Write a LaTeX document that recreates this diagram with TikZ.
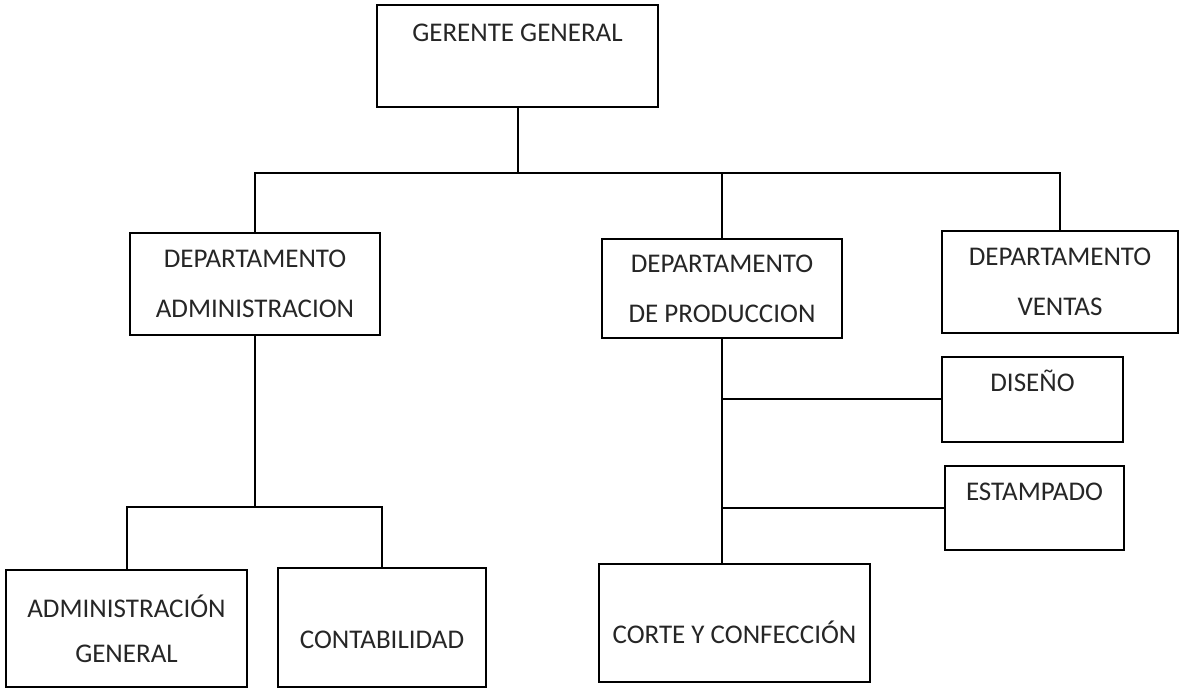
\documentclass[tikz,border=0pt]{standalone}
\usepackage{fontspec}
\setmainfont{Carlito}
\tikzset{
  caja/.style={draw, line width=1pt, inner sep=0pt, align=center,
    font=\fontsize{13.5}{25}\selectfont, text=black!85},
  linea/.style={line width=1pt},
}
\begin{document}
\begin{tikzpicture}[x=0.5pt, y=-0.5pt]
  % marco del dibujo
  \useasboundingbox (0,0) rectangle (1183,688);

  % gerencia
  \node[caja, minimum width=140.5pt, text height=18.25pt, text depth=32.75pt] (gerente) at (517.5,56) {GERENTE GENERAL};

  % departamentos
  \node[caja, minimum width=125pt, minimum height=51pt] (depadm) at (255,284) {DEPARTAMENTO\\ADMINISTRACION};
  \node[caja, minimum width=120pt, minimum height=49.5pt] (depprod) at (722,288.5) {DEPARTAMENTO\\DE PRODUCCION};
  \node[caja, minimum width=118pt, minimum height=51pt] (depvent) at (1060,282) {DEPARTAMENTO\\VENTAS};

  % areas de administracion
  \node[caja, minimum width=120.5pt, minimum height=58.5pt, font=\fontsize{13.5}{22.5}\selectfont] (admgen) at (126.5,628.5) {ADMINISTRACIÓN\\GENERAL};
  \node[caja, minimum width=104pt, text height=40.25pt, text depth=19.25pt] (conta) at (382,627.5) {CONTABILIDAD};

  % areas de produccion
  \node[caja, minimum width=90.5pt, text height=17.25pt, text depth=25.25pt] (diseno) at (1032.5,399.5) {DISEÑO};
  \node[caja, minimum width=89.5pt, text height=17.25pt, text depth=24.75pt] (estamp) at (1034.5,508) {ESTAMPADO};
  \node[caja, minimum width=135.5pt, text height=39.75pt, text depth=19.25pt] (corte) at (734.5,623) {CORTE Y CONFECCIÓN};

  % lineas
  \draw[linea] (gerente.south) -- ++(0,65) coordinate (ramagg);
  \draw[linea] (depadm.north) |- (ramagg) -| (depvent.north);
  \draw[linea] (ramagg -| depprod.north) -- (depprod.north);

  \draw[linea] (depadm.south) -- ++(0,171) coordinate (ramaadm);
  \draw[linea] (admgen.north) |- (ramaadm) -| (conta.north);

  \draw[linea] (depprod.south) -- (depprod.south |- corte.north);
  \draw[linea] (diseno.west) -- (diseno.west -| depprod.south);
  \draw[linea] (estamp.west) -- (estamp.west -| depprod.south);
\end{tikzpicture}
\end{document}
